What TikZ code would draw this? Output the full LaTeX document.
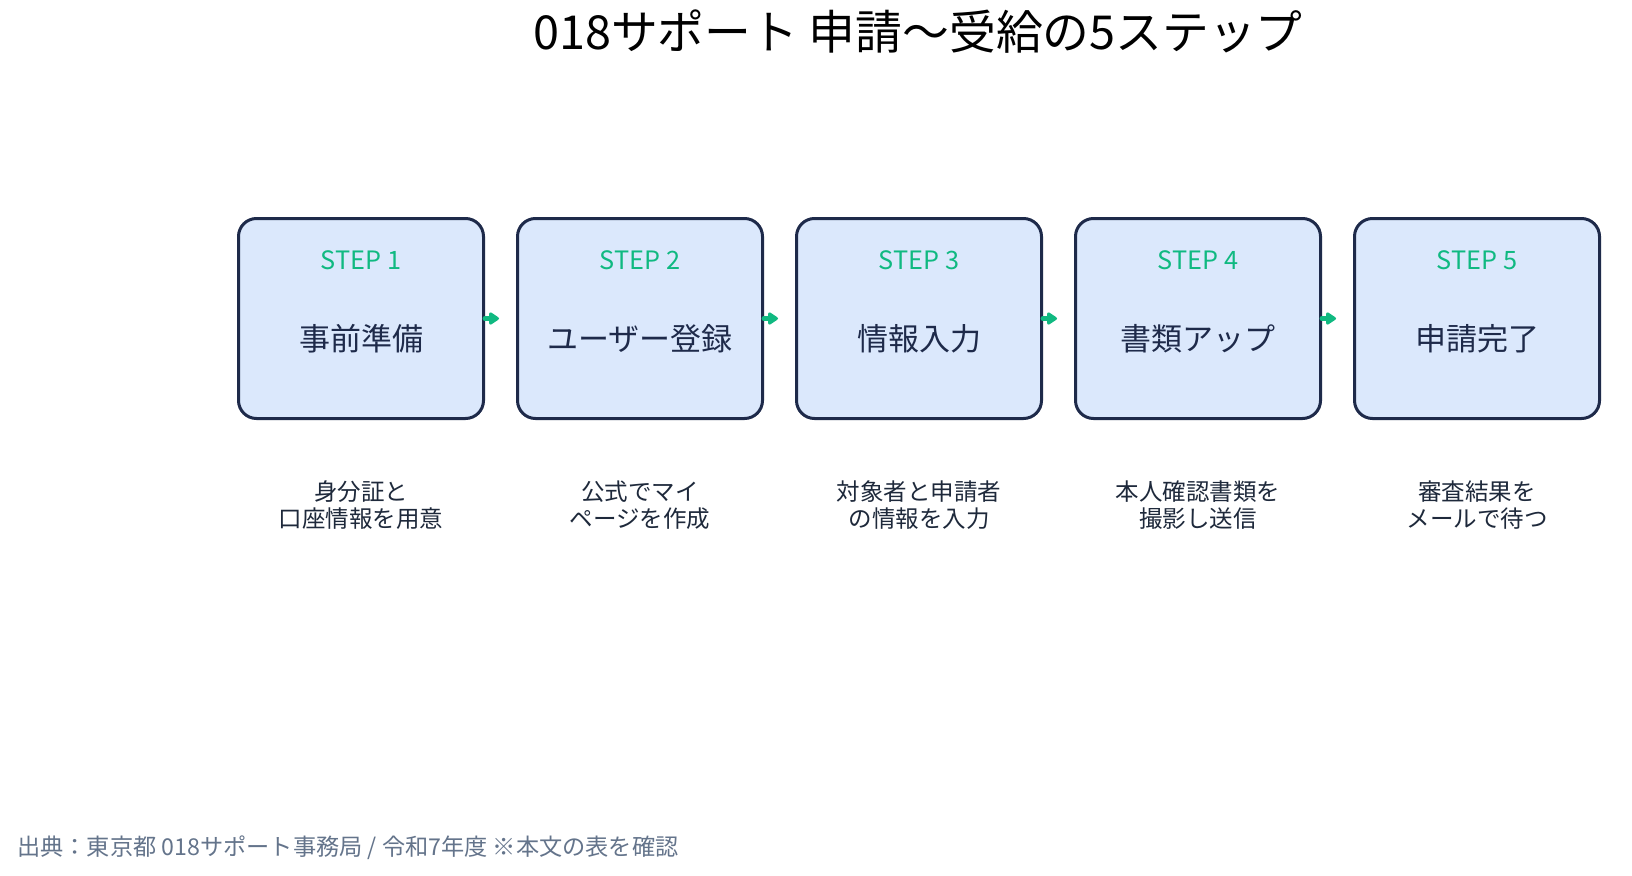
\documentclass[tikz,border=0pt]{standalone}
\usepackage{fontspec}
\setmainfont{Noto Sans CJK JP}
\usetikzlibrary{arrows.meta}
\definecolor{navy}{HTML}{1E2A4A}
\definecolor{boxfill}{HTML}{DBE8FC}
\definecolor{stepgreen}{HTML}{10B981}
\definecolor{desc}{HTML}{1E293B}
\definecolor{foot}{HTML}{64748B}
\tikzset{
  stepbox/.style={draw=navy, fill=boxfill, line width=3pt, rounded corners=18pt,
    minimum width=245pt, minimum height=200pt, inner sep=0pt},
  steplabel/.style={text=stepgreen, font=\fontsize{25.3}{30}\selectfont, inner sep=0pt},
  mainlabel/.style={text=navy, font=\fontsize{31}{36}\selectfont, inner sep=0pt},
  desctext/.style={text=desc, font=\fontsize{23.5}{27}\selectfont, align=center, inner sep=0pt},
  flow/.style={draw=stepgreen, line width=5pt, line cap=round,
    -{Triangle[length=11pt,width=14pt,round]}, shorten >=17pt}
}
\begin{document}
\begin{tikzpicture}[x=1pt,y=1pt]
\useasboundingbox[fill=white] (0,0) rectangle (1632,-875);
\node[font=\fontsize{46.8}{52}\selectfont, inner sep=0pt] (title) at (918,-32) {018サポート 申請〜受給の5ステップ};

\node[stepbox] (s1) at (361,-318.5) {};
\node[stepbox] (s2) at (640,-318.5) {};
\node[stepbox] (s3) at (919,-318.5) {};
\node[stepbox] (s4) at (1198,-318.5) {};
\node[stepbox] (s5) at (1477,-318.5) {};

\node[steplabel] (l1) at (361,-260) {STEP 1};
\node[steplabel] (l2) at (640,-260) {STEP 2};
\node[steplabel] (l3) at (919,-260) {STEP 3};
\node[steplabel] (l4) at (1198,-260) {STEP 4};
\node[steplabel] (l5) at (1477,-260) {STEP 5};

\node[mainlabel] (m1) at (361,-339) {事前準備};
\node[mainlabel] (m2) at (640,-339) {ユーザー登録};
\node[mainlabel] (m3) at (919,-339) {情報入力};
\node[mainlabel] (m4) at (1198,-339) {書類アップ};
\node[mainlabel] (m5) at (1477,-339) {申請完了};

\node[desctext] (d1) at (361,-505) {身分証と\\口座情報を用意};
\node[desctext] (d2) at (640,-505) {公式でマイ\\ページを作成};
\node[desctext] (d3) at (919,-505) {対象者と申請者\\の情報を入力};
\node[desctext] (d4) at (1198,-505) {本人確認書類を\\撮影し送信};
\node[desctext] (d5) at (1477,-505) {審査結果を\\メールで待つ};

\draw[flow] (s1.east) -- (s2.west);
\draw[flow] (s2.east) -- (s3.west);
\draw[flow] (s3.east) -- (s4.west);
\draw[flow] (s4.east) -- (s5.west);

\node[text=foot, font=\fontsize{23.2}{27}\selectfont, anchor=west, inner sep=0pt] (footer) at (17,-848) {出典：東京都 018サポート事務局 / 令和7年度 ※本文の表を確認};
\end{tikzpicture}
\end{document}
